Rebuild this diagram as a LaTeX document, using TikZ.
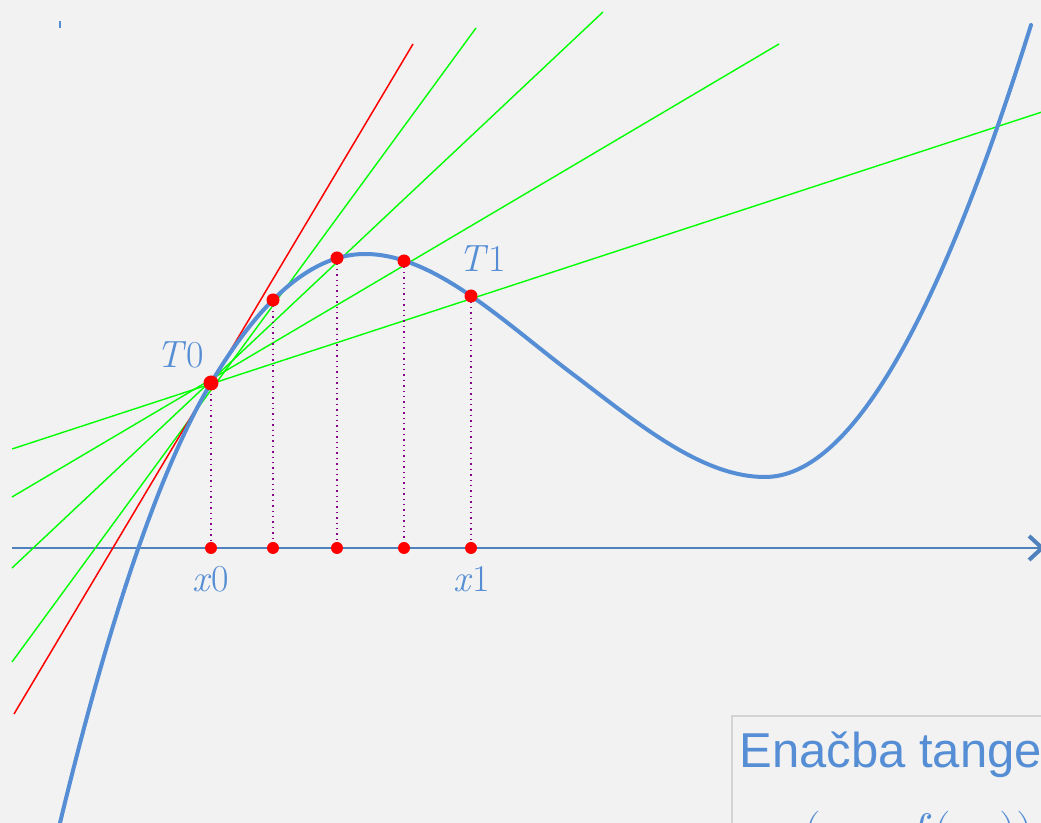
\documentclass[tikz,border=0pt]{standalone}
\usepackage{fontspec}
\newfontfamily\boxfont{Liberation Sans}
\usetikzlibrary{arrows.meta,calc}
\definecolor{bg}{HTML}{F2F2F2}
\definecolor{curveblue}{HTML}{558ED5}
\definecolor{axisblue}{HTML}{4F81BD}
\definecolor{dotpurple}{HTML}{8B008B}
\definecolor{boxgray}{HTML}{D4D4D4}
\definecolor{lgreen}{HTML}{00FF00}
\definecolor{lred}{HTML}{FF0000}
\tikzset{
  curve/.style={curveblue, line width=2pt, line cap=round},
  axisline/.style={axisblue, line width=0.9pt},
  secant/.style={lgreen, line width=0.7pt},
  tangentline/.style={lred, line width=0.75pt},
  drop/.style={dotpurple, dotted, line width=0.7pt},
  pt/.style={circle, fill=lred, inner sep=0pt, minimum size=6.5pt},
  bigpt/.style={circle, fill=lred, inner sep=0pt, minimum size=7.5pt},
  axpt/.style={circle, fill=lred, inner sep=0pt, minimum size=6pt},
  lbl/.style={text=curveblue, inner sep=0pt, font=\fontsize{19}{22}\selectfont}
}
\begin{document}
\begin{tikzpicture}[x=0.5pt,y=-0.5pt]
\fill[bg] (0,0) rectangle (1041,823);
\useasboundingbox (0,0) rectangle (1041,823);
\clip (0,0) rectangle (1041,823);

% points on the curve
\coordinate (T0) at (211,383);
\coordinate (T1) at (273,300);
\coordinate (T2) at (337,258);
\coordinate (T3) at (404,261);
\coordinate (T4) at (471,296);
% their feet on the axis
\coordinate (X0) at (211,548);
\coordinate (X1) at (273,548);
\coordinate (X2) at (337,548);
\coordinate (X3) at (404,548);
\coordinate (X4) at (471,548);

% line ends
\coordinate (g1a) at (12,662);  \coordinate (g1b) at (476,28);
\coordinate (g2a) at (12,568);  \coordinate (g2b) at (603,12);
\coordinate (g3a) at (12,497);  \coordinate (g3b) at (779,44);
\coordinate (g4a) at (12,449);  \coordinate (g4b) at (1045,111);
\coordinate (ra) at (14,714);   \coordinate (rb) at (413,44);
\coordinate (axL) at (12,548);  \coordinate (axR) at (1045,548);

% axis
\draw[axisline, -{Straight Barb[length=6.5pt, width=12pt, line width=2pt]}] (axL) -- (axR);

% secants and tangent
\draw[secant] (g1a) -- (g1b);
\draw[secant] (g2a) -- (g2b);
\draw[secant] (g3a) -- (g3b);
\draw[secant] (g4a) -- (g4b);
\draw[tangentline] (ra) -- (rb);

% curve (Hermite cubic pieces)
\coordinate (A0) at (57,836);
\coordinate (A) at (60,823);
\coordinate (M) at (365,254);
\coordinate (D) at (570,372);
\coordinate (E) at (765,477);
\coordinate (F) at (1031,25);
\draw[curve] (A0) -- (A)
  .. controls (110.33,614.1) and (160.67,467.5) .. (T0)
  .. controls (262.33,296.8) and (313.67,254) .. (M)
  .. controls (433.33,254) and (501.67,320) .. (D)
  .. controls (635,421) and (700,477) .. (E)
  .. controls (853.67,477) and (942.33,308.7) .. (F);

% drops
\draw[drop] (T0) -- (X0);
\draw[drop] (T1) -- (X1);
\draw[drop] (T2) -- (X2);
\draw[drop] (T3) -- (X3);
\draw[drop] (T4) -- (X4);

% dots
\node[bigpt] (d0) at (T0) {};
\node[pt] (d1) at (T1) {};
\node[pt] (d2) at (T2) {};
\node[pt] (d3) at (T3) {};
\node[pt] (d4) at (T4) {};
\node[axpt] (e0) at (X0) {};
\node[axpt] (e1) at (X1) {};
\node[axpt] (e2) at (X2) {};
\node[axpt] (e3) at (X3) {};
\node[axpt] (e4) at (X4) {};

% labels
\node[lbl] (lT0) at (180,355) {\textit{T}0};
\node[lbl] (lT1) at (482,259) {\textit{T}1};
\node[lbl] (lx0) at (211,579) {\textit{x}0};
\node[lbl] (lx1) at (472,579) {\textit{x}1};

% small tick at top left
\draw[curveblue, line width=0.6pt] (60,21) -- (60,28);

% equation box
\draw[boxgray, line width=1pt, fill=bg] (732,716) rectangle (1060,860);
\node[anchor=base west, inner sep=0pt, text=curveblue, font=\boxfont\fontsize{24.5}{28}\selectfont] (eq1) at (739,768) {Enačba tange};
\node[anchor=base west, inner sep=0pt, text=curveblue, font=\fontsize{24.88}{30}\selectfont] (eq2) at (803,849) {$(x_0,\; f(x_0))$};
\end{tikzpicture}
\end{document}
